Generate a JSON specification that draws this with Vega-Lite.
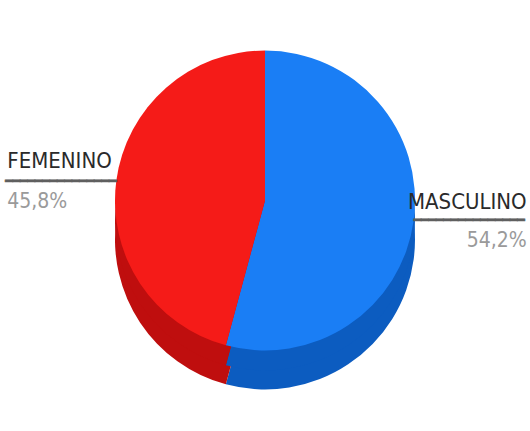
{
  "$schema": "https://vega.github.io/schema/vega-lite/v6.json",
  "width": 530,
  "height": 431,
  "autosize": {"type": "fit", "contains": "padding"},
  "padding": {"left": 0, "right": 0, "top": 0, "bottom": 30},
  "background": "white",
  "config": {
    "view": {"stroke": null},
    "locale": {"number": {"decimal": ",", "thousands": ".", "grouping": [3], "currency": ["", " €"]}}
  },
  "data": {"values": [
    {"g": "MASCULINO", "v": 0.542},
    {"g": "FEMENINO", "v": 0.458}
  ]},
  "encoding": {
    "theta": {"field": "v", "type": "quantitative", "stack": true},
    "order": {"field": "g", "type": "ordinal", "sort": "descending"}
  },
  "layer": [
    {
      "mark": {"type": "arc", "outerRadius": 150, "yOffset": 39},
      "encoding": {"fill": {"field": "g", "type": "nominal", "scale": {"domain": ["MASCULINO", "FEMENINO"], "range": ["#0c5cc0", "#bf0e0e"]}, "legend": null}}
    },
    {
      "mark": {"type": "arc", "outerRadius": 150, "yOffset": 20},
      "encoding": {"fill": {"field": "g", "type": "nominal", "scale": {"domain": ["MASCULINO", "FEMENINO"], "range": ["#0c5cc0", "#bf0e0e"]}, "legend": null}}
    },
    {
      "mark": {"type": "arc", "outerRadius": 150},
      "encoding": {"color": {"field": "g", "type": "nominal", "scale": {"domain": ["MASCULINO", "FEMENINO"], "range": ["#1a7ef5", "#f51b18"]}, "legend": null}}
    },
    {
      "mark": {"type": "text", "radius": 150, "align": "right", "baseline": "middle", "font": "DejaVu Sans Mono", "fontSize": 12.3, "color": "#5f5f5f", "stroke": "#5f5f5f", "strokeWidth": 0.8},
      "encoding": {"text": {"condition": {"test": "datum.g === 'FEMENINO'", "value": "━━━━━━━━━━━━━━━"}, "value": ""}}
    },
    {
      "mark": {"type": "text", "radius": 150, "align": "left", "baseline": "middle", "font": "DejaVu Sans Mono", "fontSize": 12.3, "color": "#5f5f5f", "stroke": "#5f5f5f", "strokeWidth": 0.8},
      "encoding": {"text": {"condition": {"test": "datum.g === 'MASCULINO'", "value": "━━━━━━━━━━━━━━━"}, "value": ""}}
    },
    {
      "mark": {"type": "text", "radius": 150, "align": "left", "baseline": "alphabetic", "dx": -109, "dy": -13, "font": "DejaVu Sans Condensed, sans-serif", "fontSize": 22, "color": "#2a2a2a"},
      "encoding": {"text": {"condition": {"test": "datum.g === 'FEMENINO'", "field": "g", "type": "nominal"}, "value": ""}}
    },
    {
      "mark": {"type": "text", "radius": 150, "align": "right", "baseline": "alphabetic", "dx": 113, "dy": -11, "font": "DejaVu Sans Condensed, sans-serif", "fontSize": 22, "color": "#2a2a2a"},
      "encoding": {"text": {"condition": {"test": "datum.g === 'MASCULINO'", "field": "g", "type": "nominal"}, "value": ""}}
    },
    {
      "mark": {"type": "text", "radius": 150, "align": "left", "baseline": "alphabetic", "dx": -109, "dy": 27, "font": "DejaVu Sans Condensed, sans-serif", "fontSize": 21, "color": "#9a9a9a"},
      "encoding": {"text": {"condition": {"test": "datum.g === 'FEMENINO'", "field": "v", "type": "quantitative", "format": ".1%"}, "value": ""}}
    },
    {
      "mark": {"type": "text", "radius": 150, "align": "right", "baseline": "alphabetic", "dx": 113, "dy": 27, "font": "DejaVu Sans Condensed, sans-serif", "fontSize": 21, "color": "#9a9a9a"},
      "encoding": {"text": {"condition": {"test": "datum.g === 'MASCULINO'", "field": "v", "type": "quantitative", "format": ".1%"}, "value": ""}}
    }
  ]
}
